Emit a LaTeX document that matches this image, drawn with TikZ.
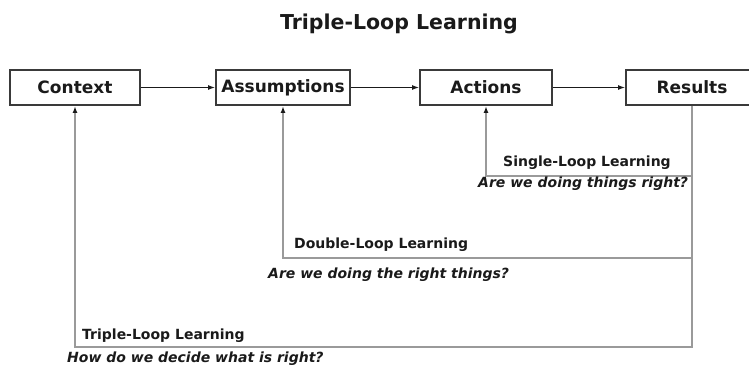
\documentclass[tikz,border=0pt]{standalone}
\usepackage{fontspec}
\setmainfont{DejaVu Sans}
\usetikzlibrary{arrows.meta}
\definecolor{ink}{HTML}{1A1A1A}
\definecolor{frame}{HTML}{3A3A3A}
\definecolor{loopgrey}{HTML}{9A9A9A}
\begin{document}
\begin{tikzpicture}[x=1pt,y=-1pt,
  stagebox/.style={draw=frame, line width=2pt, fill=white, minimum height=35pt,
    inner sep=0pt, text=ink, font=\bfseries\fontsize{17}{20}\selectfont},
  flow/.style={draw=ink, line width=1pt, -{Latex[length=7pt,width=5pt]}},
  loopline/.style={draw=loopgrey, line width=1.5pt,
    -{Latex[length=7pt,width=5pt,color=ink]}},
  looplabel/.style={anchor=base west, inner sep=0pt, text=ink,
    font=\bfseries\fontsize{14}{16}\selectfont},
  question/.style={anchor=base west, inner sep=0pt, text=ink,
    font=\bfseries\itshape\fontsize{14}{16}\selectfont},
  heading/.style={anchor=base, inner sep=0pt, text=ink,
    font=\bfseries\fontsize{20.5}{24}\selectfont}]
  \useasboundingbox (0,0) rectangle (749,371);
  \clip (0,0) rectangle (749,371);
  \fill[white] (0,0) rectangle (749,371);

  % title
  \node[heading] (title) at (399,30) {Triple-Loop Learning};

  % the four stages
  \node[stagebox, minimum width=130pt] (ctx) at (75,87.5) {Context};
  \node[stagebox, minimum width=134pt] (asm) at (283,87.5) {Assumptions};
  \node[stagebox, minimum width=132pt] (act) at (486,87.5) {Actions};
  \node[stagebox, minimum width=132pt] (res) at (692,87.5) {Results};

  % forward flow
  \draw[flow] (ctx) -- (asm);
  \draw[flow] (asm) -- (act);
  \draw[flow] (act) -- (res);

  % feedback loops
  \coordinate (single) at (486,176);
  \coordinate (double) at (283,258);
  \coordinate (triple) at (75,347);
  \draw[loopline] (res.south) |- (single) -- (act.south);
  \draw[loopline] (res.south) |- (double) -- (asm.south);
  \draw[loopline] (res.south) |- (triple) -- (ctx.south);

  % loop labels
  \node[looplabel] (slname) at (503,167) {Single-Loop Learning};
  \node[question] (slq) at (478,188) {Are we doing things right?};
  \node[looplabel] (dlname) at (294,248) {Double-Loop Learning};
  \node[question] (dlq) at (268,278) {Are we doing the right things?};
  \node[looplabel] (tlname) at (82,339) {Triple-Loop Learning};
  \node[question] (tlq) at (67,362) {How do we decide what is right?};
\end{tikzpicture}
\end{document}
